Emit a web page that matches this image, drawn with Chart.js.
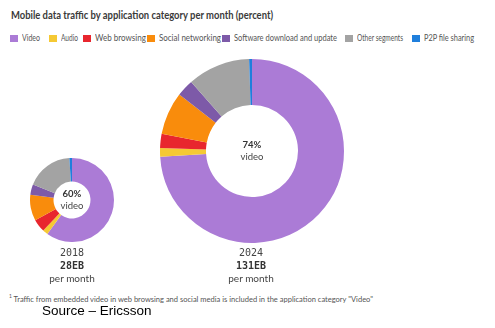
<!DOCTYPE html>
<html>
<head>
<meta charset="utf-8">
<script src="https://cdn.jsdelivr.net/npm/chart.js@4"></script>
<style>
html,body{margin:0;padding:0;background:#fff;width:495px;height:328px;overflow:hidden;}
body{position:relative;font-family:Lato,"Noto Sans",sans-serif;color:#333;}
.fit{position:absolute;white-space:nowrap;transform-origin:0 0;display:inline-block;}
#title{left:11px;top:9px;font-size:10.5px;font-weight:700;color:#3a3a3a;}
#legend{position:absolute;left:0;top:31px;font-size:9px;color:#555;}
.sw{position:absolute;top:3.5px;width:7.5px;height:7.5px;}
.lt{top:1px;line-height:12px;}
canvas{position:absolute;}
.ctr{position:absolute;text-align:center;font-size:9.5px;line-height:12px;color:#444;}
.ctr b{font-weight:700;color:#333;}
.yr{position:absolute;text-align:center;font-size:10px;line-height:12px;color:#444;width:80px;}
.yr .y{font-family:"DejaVu Sans Mono",monospace;font-size:10px;}
.yr .e{font-family:"DejaVu Sans Mono",monospace;font-weight:700;font-size:10px;color:#333;}
#foot{left:9px;top:293px;font-size:7.5px;color:#555;}
#src{position:absolute;left:42px;top:303px;font-family:"Liberation Sans",Arial,sans-serif;font-size:13.5px;color:#000;white-space:nowrap;}
</style>
</head>
<body>
<div id="title" class="fit" data-w="262">Mobile data traffic by application category per month (percent)</div>
<div id="legend"></div>
<canvas id="c1" width="84" height="84" style="left:30px;top:158px;width:84px;height:84px"></canvas>
<canvas id="c2" width="184" height="184" style="left:160px;top:59px;width:184px;height:184px"></canvas>
<div class="ctr" style="left:42px;top:188px;width:60px;"><b>60%</b><br>video</div>
<div class="ctr" style="left:222px;top:139px;width:60px;"><b>74%</b><br>video</div>
<div class="yr" style="left:32px;top:246px;"><span class="y">2018</span><br><span class="e">28EB</span><br>per month</div>
<div class="yr" style="left:211px;top:246px;"><span class="y">2024</span><br><span class="e">131EB</span><br>per month</div>
<div id="foot" class="fit" data-w="364"><sup style="font-size:5px">1</sup> Traffic from embedded video in web browsing and social media is included in the application category "Video"</div>
<div id="src">Source – Ericsson</div>
<script>
const categories = ["Video","Audio","Web browsing","Social networking","Software download and update","Other segments","P2P file sharing"];
const colors = ["#AB7BD6","#F5C934","#E8262E","#F98C0C","#7D5AA8","#A3A3A3","#1F7FDC"];
const values2018 = [60, 2, 5, 10, 4, 18, 1];
const values2024 = [74, 1.5, 2.5, 7.5, 3, 11, 0.5];
const swatchX = [10, 49, 83, 147, 222, 345, 412];
const labelW = [18, 17, 51, 62, 103, 46, 50];

const leg = document.getElementById('legend');
categories.forEach((c,i)=>{
  const s=document.createElement('div');s.className='sw';s.style.left=swatchX[i]+'px';s.style.background=colors[i];
  leg.appendChild(s);
  const t=document.createElement('div');t.className='lt fit';t.style.left=(swatchX[i]+12)+'px';t.dataset.w=labelW[i];t.textContent=c;
  leg.appendChild(t);
});
document.querySelectorAll('.fit').forEach(el=>{
  const w=el.getBoundingClientRect().width;const tw=+el.dataset.w;
  if(w>0&&tw)el.style.transform='scaleX('+(tw/w)+')';
});

function mk(id, vals, cut){
  new Chart(document.getElementById(id), {
    type:'doughnut',
    data:{labels:categories,datasets:[{data:vals,backgroundColor:colors,borderWidth:0}]},
    options:{responsive:false,animation:false,cutout:cut,rotation:0,
      layout:{padding:0},
      plugins:{legend:{display:false},tooltip:{enabled:false}}}
  });
}
mk('c1', values2018, '44%');
mk('c2', values2024, '50%');
</script>
</body>
</html>
